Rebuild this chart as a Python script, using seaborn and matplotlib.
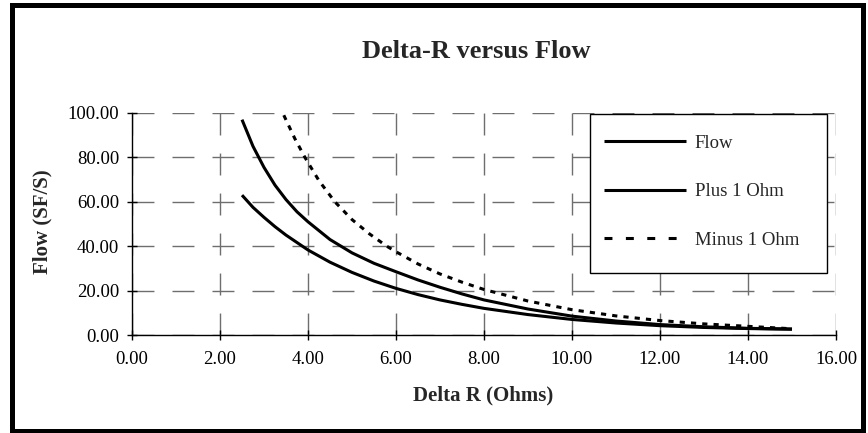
import matplotlib
matplotlib.use("Agg")
import matplotlib.pyplot as plt
from matplotlib.patches import Rectangle
from matplotlib.ticker import FormatStrFormatter
import seaborn as sns
import pandas as pd

# ---- data ----
flow_x = [2.5, 2.75, 3.0, 3.25, 3.5, 4.0, 4.5, 5.0, 5.5, 6.0, 6.5, 7.0, 7.5, 8.0, 9.0, 10.0, 11.0, 12.0, 13.0, 14.0, 15.0]
flow_y = [63.0, 57.5, 53.0, 48.8, 45.0, 38.3, 32.8, 28.2, 24.3, 21.0, 18.2, 15.8, 13.8, 12.0, 9.2, 7.0, 5.4, 4.2, 3.4, 2.9, 2.6]

plus_x = [2.5, 2.75, 3.0, 3.25, 3.5, 3.75, 4.0, 4.5, 5.0, 5.5, 6.0, 6.5, 7.0, 7.5, 8.0, 9.0, 10.0, 11.0, 12.0, 13.0, 14.0, 15.0]
plus_y = [97.0, 85.0, 75.5, 67.5, 61.0, 55.5, 51.0, 43.0, 37.0, 32.3, 28.5, 24.8, 21.5, 18.5, 15.8, 11.7, 8.5, 6.3, 4.7, 3.7, 3.0, 2.7]

minus_x = [3.45, 3.7, 3.93, 4.25, 4.61, 5.0, 5.4, 5.79, 6.0, 6.5, 7.0, 7.5, 8.0, 9.0, 10.0, 11.0, 12.0, 13.0, 14.0, 15.0]
minus_y = [99.0, 88.5, 80.0, 69.5, 60.0, 52.0, 45.5, 40.0, 37.5, 32.0, 27.5, 23.8, 20.5, 15.3, 11.4, 8.6, 6.5, 5.0, 3.9, 2.8]

series_names = ["Flow", "Plus 1 Ohm", "Minus 1 Ohm"]
x_ticks = [0, 2, 4, 6, 8, 10, 12, 14, 16]
y_ticks = [0, 20, 40, 60, 80, 100]

title = "Delta-R versus Flow"
x_label = "Delta R (Ohms)"
y_label = "Flow (SF/S)"

# ---- style ----
sns.set_style("white")
plt.rcParams["font.family"] = ["Liberation Serif", "DejaVu Serif"]

W, H = 868, 433
fig = plt.figure(figsize=(W / 100, H / 100), dpi=100)
fig.patch.set_facecolor("white")

ax_left, ax_right, ax_top, ax_bottom = 132, 836, 113, 335
AW, AH = ax_right - ax_left, ax_bottom - ax_top
ax = fig.add_axes([ax_left / W, 1 - ax_bottom / H, AW / W, AH / H])
ax.set_facecolor("white")


def px_to_ax(px, py):
    return (px - ax_left) / AW, (ax_bottom - py) / AH


df_flow = pd.DataFrame({"x": flow_x, "y": flow_y})
df_plus = pd.DataFrame({"x": plus_x, "y": plus_y})
df_minus = pd.DataFrame({"x": minus_x, "y": minus_y})

sns.lineplot(data=df_flow, x="x", y="y", ax=ax, color="black", lw=2.2,
             label=series_names[0], sort=False, estimator=None)
sns.lineplot(data=df_plus, x="x", y="y", ax=ax, color="black", lw=2.2,
             label=series_names[1], sort=False, estimator=None)
sns.lineplot(data=df_minus, x="x", y="y", ax=ax, color="black", lw=2.2,
             label=series_names[2], sort=False, estimator=None)
for ln in ax.lines[:3]:
    ln.set_solid_capstyle("butt")
ax.lines[2].set_dashes((1.7, 2.0))
ax.lines[2].set_dash_capstyle("butt")

ax.set_xlim(0, 16)
ax.set_ylim(0, 100)
ax.set_xticks(x_ticks)
ax.set_yticks(y_ticks)
ax.xaxis.set_major_formatter(FormatStrFormatter("%.2f"))
ax.yaxis.set_major_formatter(FormatStrFormatter("%.2f"))

ax.grid(True, which="major", color="#6e6e6e", lw=1.0, linestyle=(0, (15.8, 13.0)))
ax.set_axisbelow(True)

for s in ["top", "right"]:
    ax.spines[s].set_visible(False)
for s in ["left", "bottom"]:
    ax.spines[s].set_visible(True)
    ax.spines[s].set_color("black")
    ax.spines[s].set_linewidth(1.0)

ax.tick_params(axis="both", which="major", direction="inout", length=6.5, width=1.0,
               color="black", labelsize=13.5, labelcolor="black")
ax.tick_params(axis="x", pad=8)
ax.tick_params(axis="y", pad=6)
ax.xaxis.set_ticks_position("bottom")
ax.yaxis.set_ticks_position("left")

ax.set_xlabel(x_label, fontsize=15, fontweight="bold")
ax.set_ylabel(y_label, fontsize=15, fontweight="bold")
ax.xaxis.set_label_coords(*px_to_ax(483, 395))
ax.xaxis.label.set_va("center")
ax.yaxis.set_label_coords(*px_to_ax(42.5, 222))
ax.yaxis.label.set_va("center")
ax.yaxis.label.set_rotation_mode("anchor")

fig.text(476 / W, 1 - 52 / H, title, fontsize=19, fontweight="bold", ha="center", va="center")

# legend (frame drawn as a separate white box)
lx0, ly0 = px_to_ax(590, 273)
lx1, ly1 = px_to_ax(827, 114)
ax.add_patch(Rectangle((lx0, ly0), lx1 - lx0, ly1 - ly0, transform=ax.transAxes,
                       facecolor="white", edgecolor="black", lw=1.0, zorder=4))
leg = ax.legend(loc="upper left", bbox_to_anchor=px_to_ax(604, 134.5),
                borderaxespad=0, frameon=False, fontsize=13.5,
                handlelength=4.37, handletextpad=0.48, labelspacing=1.68, borderpad=0)
leg.set_zorder(5)
for lh in leg.get_lines():
    lh.set_linewidth(2.2)
    lh.set_solid_capstyle("butt")
leg.get_lines()[2].set_dashes((2.6, 4.4))
leg.get_lines()[2].set_dash_capstyle("butt")

# outer chart frame
fig.patches.append(Rectangle((11.7 / W, 1 - 431 / H), (863 - 11.7) / W, (431 - 4.5) / H,
                             transform=fig.transFigure, fill=False, edgecolor="black", lw=3.6, zorder=10))

fig.savefig("out.png", dpi=100, facecolor="white")
